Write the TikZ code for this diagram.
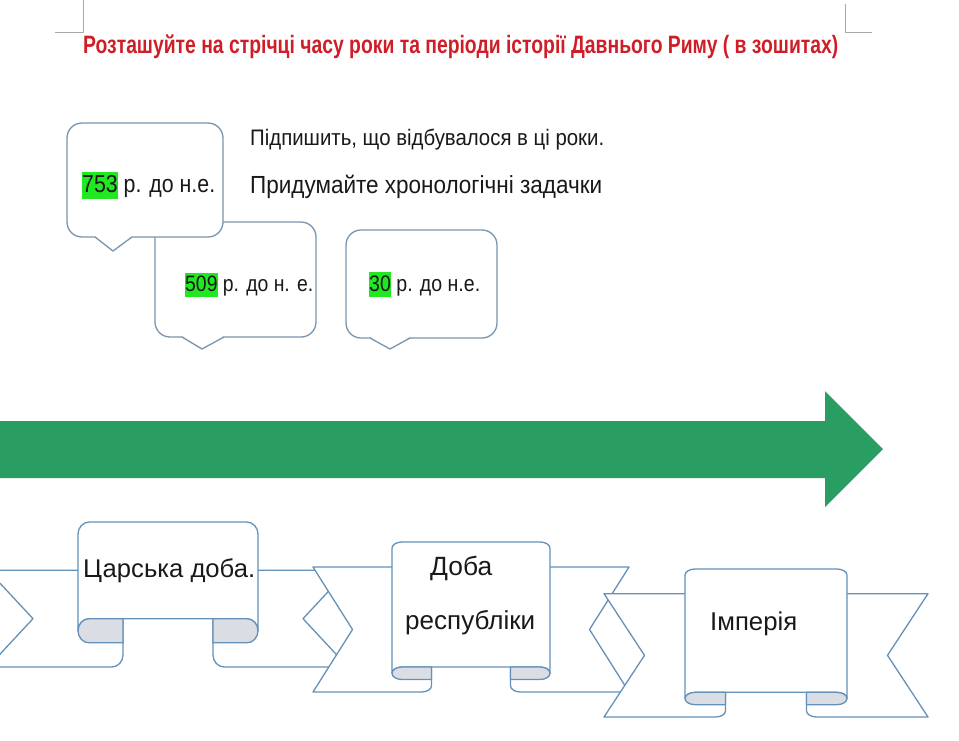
\documentclass[tikz,border=0pt]{standalone}
\usepackage{fontspec}
\setmainfont{Liberation Sans}
\usepackage{graphicx}
\definecolor{titlered}{RGB}{208,30,40}
\definecolor{arrowgreen}{RGB}{42,157,99}
\definecolor{hlgreen}{RGB}{34,232,34}
\definecolor{ribline}{RGB}{100,145,185}
\definecolor{coline}{RGB}{120,150,175}
\definecolor{ribgray}{RGB}{218,221,227}
\definecolor{markgray}{RGB}{170,170,170}
\definecolor{txt}{RGB}{25,25,25}
\newcommand\hlnum[1]{{\fboxsep=0pt\colorbox{hlgreen}{\rule[-0.27em]{0pt}{1.1em}#1}}}
\newcommand\fitw[3]{\scalebox{1}[#2]{\resizebox{#1pt}{!}{#3}}}
\tikzset{
 rb/.style={draw=ribline, line width=1.3pt, fill=white, line join=round},
 rbg/.style={draw=ribline, line width=1.3pt, fill=ribgray, line join=round},
 co/.style={draw=coline, line width=1.3pt, fill=white},
 lbl/.style={inner sep=0pt, anchor=base west, text=txt},
 cornermark/.style={draw=markgray, line width=1pt},
}
\newcommand\mycallout[8]{%
 \draw[co, rounded corners=15pt] (#1,#2) rectangle (#3,#4);
 \fill[white] (#5,#4-1.2) -- (#8,#4-1.2) -- (#6,#7) -- cycle;
 \draw[co, fill=none, line join=miter] (#5,#4) -- (#6,#7) -- (#8,#4);
}
\newcommand\myribbon[5]{%
\pgfmathsetmacro\rbL{#1}%
\pgfmathsetmacro\rbR{#2}%
\pgfmathsetmacro\rbT{#3}%
\pgfmathsetmacro\rbB{#4}%
\pgfmathsetmacro\rbW{\rbR-\rbL}%
\pgfmathsetmacro\rbH{\rbB-\rbT}%
\pgfmathsetmacro\rbC{(\rbL+\rbR)/2}%
\pgfmathsetmacro\rbN{\rbW/8}%
\pgfmathsetmacro\rbQ{\rbW/32}%
\pgfmathsetmacro\rbKQ{0.5523*\rbQ}%
\pgfmathsetmacro\rbHR{\rbH*#5/4}%
\pgfmathsetmacro\rbKH{0.5523*\rbHR}%
\pgfmathsetmacro\rbXb{\rbC-\rbW/4}%
\pgfmathsetmacro\rbXi{\rbC+\rbW/4}%
\pgfmathsetmacro\rbXc{\rbXb+\rbQ}%
\pgfmathsetmacro\rbXh{\rbXi-\rbQ}%
\pgfmathsetmacro\rbXe{\rbXb+\rbN}%
\pgfmathsetmacro\rbXf{\rbXi-\rbN}%
\pgfmathsetmacro\rbXd{\rbXe-\rbQ}%
\pgfmathsetmacro\rbXg{\rbXf+\rbQ}%
\pgfmathsetmacro\rbYa{\rbB-2*\rbHR}%
\pgfmathsetmacro\rbYb{\rbB-4*\rbHR}%
\pgfmathsetmacro\rbYm{\rbYb+\rbHR}%
\pgfmathsetmacro\rbYd{\rbT+4*\rbHR}%
\pgfmathsetmacro\rbYc{(\rbYd+\rbB)/2}%
\pgfmathsetmacro\rbYt{\rbB-\rbHR}%
\draw[rb] (\rbL,\rbYd) -- (\rbXe,\rbYd) -- (\rbXe,\rbYt) .. controls (\rbXe,\rbYt+\rbKH) and (\rbXd+\rbKQ,\rbB) .. (\rbXd,\rbB) -- (\rbL,\rbB) -- (\rbL+\rbN,\rbYc) -- cycle;
\draw[rb] (\rbR,\rbYd) -- (\rbXf,\rbYd) -- (\rbXf,\rbYt) .. controls (\rbXf,\rbYt+\rbKH) and (\rbXg-\rbKQ,\rbB) .. (\rbXg,\rbB) -- (\rbR,\rbB) -- (\rbR-\rbN,\rbYc) -- cycle;
\draw[rb] (\rbXb,\rbYm) -- (\rbXb,\rbT+\rbHR) .. controls (\rbXb,\rbT+\rbHR-\rbKH) and (\rbXc-\rbKQ,\rbT) .. (\rbXc,\rbT) -- (\rbXh,\rbT) .. controls (\rbXh+\rbKQ,\rbT) and (\rbXi,\rbT+\rbHR-\rbKH) .. (\rbXi,\rbT+\rbHR) -- (\rbXi,\rbYm) .. controls (\rbXi,\rbYm-\rbKH) and (\rbXh+\rbKQ,\rbYb) .. (\rbXh,\rbYb) -- (\rbXc,\rbYb) .. controls (\rbXc-\rbKQ,\rbYb) and (\rbXb,\rbYm-\rbKH) .. (\rbXb,\rbYm) -- cycle;
\draw[rbg] (\rbXe,\rbYb) -- (\rbXc,\rbYb) .. controls (\rbXc-\rbKQ,\rbYb) and (\rbXb,\rbYm-\rbKH) .. (\rbXb,\rbYm) .. controls (\rbXb,\rbYm+\rbKH) and (\rbXc-\rbKQ,\rbYa) .. (\rbXc,\rbYa) -- (\rbXe,\rbYa) -- cycle;
\draw[rbg] (\rbXf,\rbYb) -- (\rbXh,\rbYb) .. controls (\rbXh+\rbKQ,\rbYb) and (\rbXi,\rbYm-\rbKH) .. (\rbXi,\rbYm) .. controls (\rbXi,\rbYm+\rbKH) and (\rbXh+\rbKQ,\rbYa) .. (\rbXh,\rbYa) -- (\rbXf,\rbYa) -- cycle;
}
\begin{document}
\begin{tikzpicture}[x=1pt, y=1pt, yscale=-1]
\useasboundingbox (0,0) rectangle (959,740);
\clip (0,0) rectangle (959,740);
\fill[white] (0,0) rectangle (959,740);
% corner marks
\draw[cornermark] (83,0) -- (83,32) -- (55,32);
\draw[cornermark] (845,4) -- (845,32) -- (872,32);
% title
\node[lbl, text=titlered] (title) at (83,53) {\fitw{755}{1.3}{\bfseries Розташуйте на стрічці часу роки та періоди історії Давнього Риму ( в зошитах)}};
% instructions
\node[lbl] (ins1) at (250,145) {\fitw{354}{1.1}{Підпишить, що відбувалося в ці роки.}};
\node[lbl] (ins2) at (250,193) {\fitw{352}{1.1}{Придумайте хронологічні задачки}};
% callouts
\mycallout{155}{222}{316}{337}{182}{202}{349}{224}
\mycallout{346}{230}{497}{338}{370}{390}{349}{410}
\mycallout{67}{123}{223}{237}{95}{113}{251}{132}
\node[lbl] (t753) at (82,192) {\fitw{133}{1.15}{\hlnum{753} р. до н.е.}};
\node[lbl] (t509) at (185,291) {\fitw{128}{1.15}{\hlnum{509} р. до н. е.}};
\node[lbl] (t30) at (369,291) {\fitw{111}{1.15}{\hlnum{30} р. до н.е.}};
% arrow
\fill[arrowgreen] (-5,421) -- (825,421) -- (825,391) -- (883,449) -- (825,507) -- (825,478) -- (-5,478) -- cycle;
% ribbons
\myribbon{-12}{348}{522}{667}{0.33333}
\myribbon{313}{629}{542}{692}{0.16667}
\myribbon{604}{928}{569}{717}{0.16667}
\node[lbl] (tz) at (83,577) {\fitw{172}{1}{Царська доба.}};
\node[lbl] (td) at (430,575) {\fitw{62}{1}{Доба}};
\node[lbl] (tr) at (405,629) {\fitw{130}{1}{республіки}};
\node[lbl] (ti) at (710,630) {\fitw{87}{1}{Імперія}};
\end{tikzpicture}
\end{document}
